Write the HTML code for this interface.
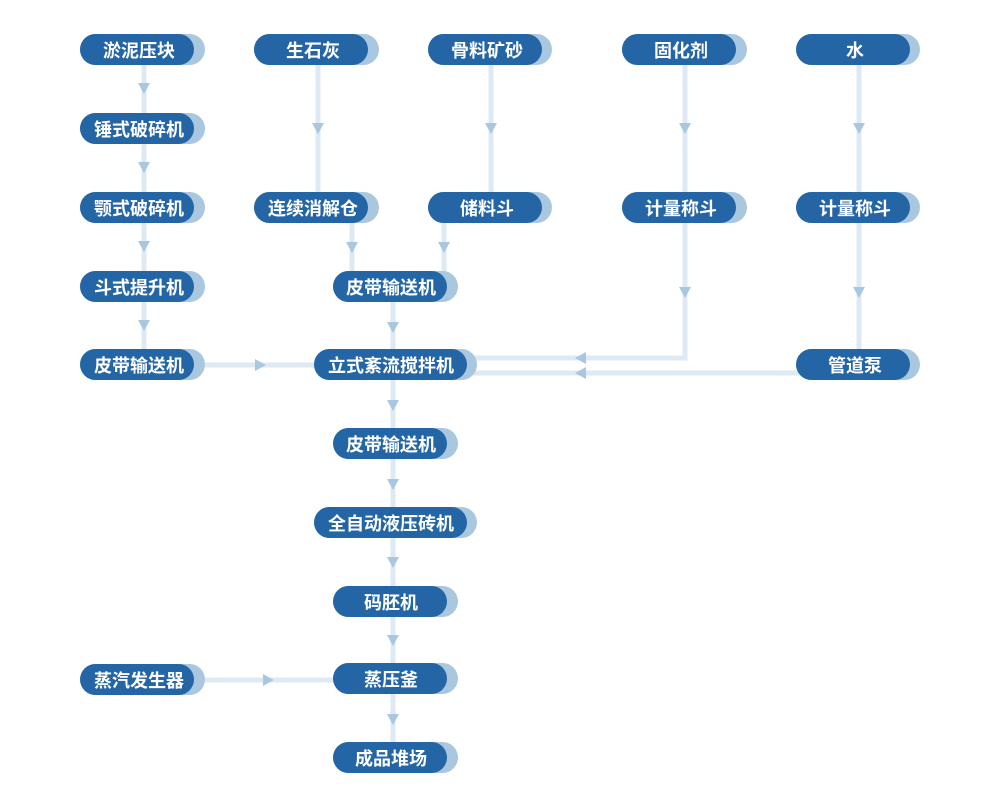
<!DOCTYPE html>
<html><head><meta charset="utf-8"><style>
html,body{margin:0;padding:0;background:#fff;}
svg{display:block;}
text{font-family:"Liberation Sans","Noto Sans CJK SC",sans-serif;font-weight:bold;font-size:18px;fill:#fff;text-anchor:middle;}
</style></head><body>
<svg width="1001" height="808" viewBox="0 0 1001 808" xmlns="http://www.w3.org/2000/svg">
<g stroke="#dde9f3" stroke-width="5" fill="none">
<line x1="144" y1="60" x2="144" y2="360"/>
<line x1="205" y1="365" x2="320" y2="365"/>
<line x1="318" y1="60" x2="318" y2="200"/>
<line x1="491" y1="60" x2="491" y2="200"/>
<line x1="685" y1="60" x2="685" y2="200"/>
<line x1="859" y1="60" x2="859" y2="200"/>
<line x1="352" y1="215" x2="352" y2="280"/>
<line x1="444" y1="215" x2="444" y2="280"/>
<polyline points="685,215 685,358 470,358"/>
<polyline points="859,215 859,360"/>
<line x1="800" y1="373" x2="470" y2="373"/>
<line x1="393" y1="295" x2="393" y2="750"/>
<line x1="205" y1="680" x2="340" y2="680"/>
</g>
<g fill="#a9c8e0">
<polygon points="138,83 150,83 144,94"/>
<polygon points="138,162 150,162 144,173"/>
<polygon points="138,241 150,241 144,252"/>
<polygon points="138,320 150,320 144,331"/>
<polygon points="312,123 324,123 318,134"/>
<polygon points="485,123 497,123 491,134"/>
<polygon points="679,123 691,123 685,134"/>
<polygon points="853,123 865,123 859,134"/>
<polygon points="346,242 358,242 352,253"/>
<polygon points="438,242 450,242 444,253"/>
<polygon points="679,287 691,287 685,298"/>
<polygon points="853,287 865,287 859,298"/>
<polygon points="255,359 255,371 266,365"/>
<polygon points="263,674 263,686 274,680"/>
<polygon points="586,352 586,364 575,358"/>
<polygon points="586,367 586,379 575,373"/>
<polygon points="387,322 399,322 393,333"/>
<polygon points="387,400 399,400 393,411"/>
<polygon points="387,479 399,479 393,490"/>
<polygon points="387,557 399,557 393,568"/>
<polygon points="387,635 399,635 393,646"/>
<polygon points="387,714 399,714 393,725"/>
</g>
<g>
<rect x="80" y="34" width="125" height="31" rx="15.5" fill="#a9c8e0"/><rect x="80" y="34" width="114" height="31" rx="15.5" fill="#2466a5"/><text x="139" y="57">淤泥压块</text>
<rect x="80" y="113" width="125" height="31" rx="15.5" fill="#a9c8e0"/><rect x="80" y="113" width="114" height="31" rx="15.5" fill="#2466a5"/><text x="139" y="136">锤式破碎机</text>
<rect x="80" y="192" width="125" height="31" rx="15.5" fill="#a9c8e0"/><rect x="80" y="192" width="114" height="31" rx="15.5" fill="#2466a5"/><text x="139" y="215">颚式破碎机</text>
<rect x="80" y="271" width="125" height="31" rx="15.5" fill="#a9c8e0"/><rect x="80" y="271" width="114" height="31" rx="15.5" fill="#2466a5"/><text x="139" y="294">斗式提升机</text>
<rect x="80" y="349" width="125" height="31" rx="15.5" fill="#a9c8e0"/><rect x="80" y="349" width="114" height="31" rx="15.5" fill="#2466a5"/><text x="139" y="372">皮带输送机</text>
<rect x="80" y="664" width="125" height="31" rx="15.5" fill="#a9c8e0"/><rect x="80" y="664" width="114" height="31" rx="15.5" fill="#2466a5"/><text x="139" y="687">蒸汽发生器</text>

<rect x="254" y="34" width="125" height="31" rx="15.5" fill="#a9c8e0"/><rect x="254" y="34" width="114" height="31" rx="15.5" fill="#2466a5"/><text x="313" y="57">生石灰</text>
<rect x="254" y="192" width="125" height="31" rx="15.5" fill="#a9c8e0"/><rect x="254" y="192" width="114" height="31" rx="15.5" fill="#2466a5"/><text x="313" y="215">连续消解仓</text>

<rect x="428" y="34" width="124" height="31" rx="15.5" fill="#a9c8e0"/><rect x="428" y="34" width="114" height="31" rx="15.5" fill="#2466a5"/><text x="487" y="57">骨料矿砂</text>
<rect x="428" y="192" width="124" height="31" rx="15.5" fill="#a9c8e0"/><rect x="428" y="192" width="114" height="31" rx="15.5" fill="#2466a5"/><text x="487" y="215">储料斗</text>

<rect x="622" y="34" width="125" height="31" rx="15.5" fill="#a9c8e0"/><rect x="622" y="34" width="114" height="31" rx="15.5" fill="#2466a5"/><text x="681" y="57">固化剂</text>
<rect x="622" y="192" width="125" height="31" rx="15.5" fill="#a9c8e0"/><rect x="622" y="192" width="114" height="31" rx="15.5" fill="#2466a5"/><text x="681" y="215">计量称斗</text>

<rect x="796" y="34" width="124" height="31" rx="15.5" fill="#a9c8e0"/><rect x="796" y="34" width="114" height="31" rx="15.5" fill="#2466a5"/><text x="855" y="57">水</text>
<rect x="796" y="192" width="124" height="31" rx="15.5" fill="#a9c8e0"/><rect x="796" y="192" width="114" height="31" rx="15.5" fill="#2466a5"/><text x="855" y="215">计量称斗</text>
<rect x="796" y="349" width="124" height="31" rx="15.5" fill="#a9c8e0"/><rect x="796" y="349" width="114" height="31" rx="15.5" fill="#2466a5"/><text x="855" y="372">管道泵</text>

<rect x="333" y="271" width="125" height="31" rx="15.5" fill="#a9c8e0"/><rect x="333" y="271" width="114" height="31" rx="15.5" fill="#2466a5"/><text x="391" y="294">皮带输送机</text>
<rect x="314" y="349" width="163" height="31" rx="15.5" fill="#a9c8e0"/><rect x="314" y="349" width="153" height="31" rx="15.5" fill="#2466a5"/><text x="391" y="372">立式紊流搅拌机</text>
<rect x="333" y="428" width="125" height="31" rx="15.5" fill="#a9c8e0"/><rect x="333" y="428" width="114" height="31" rx="15.5" fill="#2466a5"/><text x="391" y="451">皮带输送机</text>
<rect x="314" y="507" width="163" height="31" rx="15.5" fill="#a9c8e0"/><rect x="314" y="507" width="153" height="31" rx="15.5" fill="#2466a5"/><text x="391" y="530">全自动液压砖机</text>
<rect x="333" y="586" width="125" height="31" rx="15.5" fill="#a9c8e0"/><rect x="333" y="586" width="114" height="31" rx="15.5" fill="#2466a5"/><text x="391" y="609">码胚机</text>
<rect x="333" y="663" width="125" height="31" rx="15.5" fill="#a9c8e0"/><rect x="333" y="663" width="114" height="31" rx="15.5" fill="#2466a5"/><text x="391" y="686">蒸压釜</text>
<rect x="333" y="742" width="125" height="31" rx="15.5" fill="#a9c8e0"/><rect x="333" y="742" width="114" height="31" rx="15.5" fill="#2466a5"/><text x="391" y="765">成品堆场</text>
</g>
</svg>
</body></html>
